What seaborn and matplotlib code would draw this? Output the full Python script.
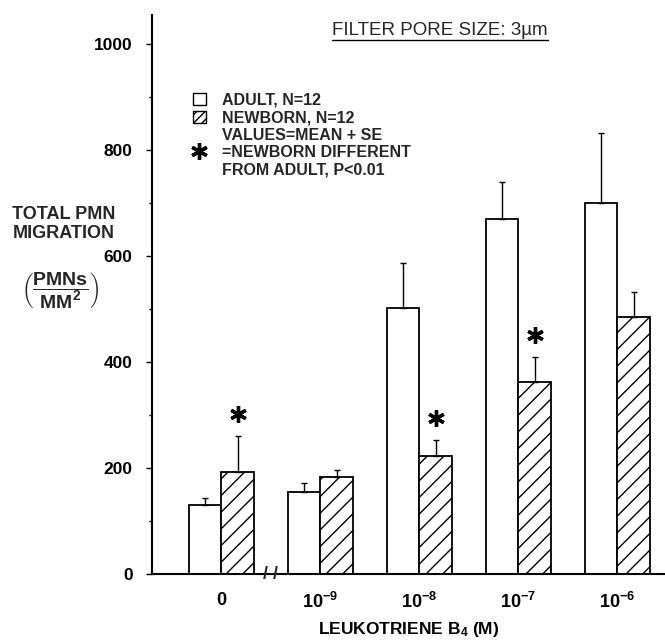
import numpy as np
import pandas as pd
import matplotlib
matplotlib.use("Agg")
import matplotlib.pyplot as plt
import matplotlib.transforms as mtransforms
from matplotlib.patches import Patch
from matplotlib.lines import Line2D
import seaborn as sns

# data (mean and SE, PMNs/mm2)
doses        = ["0", "1e-9", "1e-8", "1e-7", "1e-6"]
dose_labels  = ["0", r"$10^{-9}$", r"$10^{-8}$", r"$10^{-7}$", r"$10^{-6}$"]
groups       = ["ADULT", "NEWBORN"]
adult_mean   = [130, 155, 503, 670, 700]
adult_se     = [13, 17, 84, 70, 132]
newborn_mean = [192, 183, 223, 362, 485]
newborn_se   = [68, 13, 30, 48, 47]
newborn_sig  = [True, False, True, True, False]

sns.set_theme(style="ticks")
plt.rcParams["font.family"] = ["Liberation Sans", "DejaVu Sans"]
plt.rcParams["font.weight"] = "bold"
plt.rcParams["axes.labelweight"] = "bold"
plt.rcParams["mathtext.fontset"] = "custom"
plt.rcParams["mathtext.rm"] = "Liberation Sans:bold"
plt.rcParams["mathtext.bf"] = "Liberation Sans:bold"
plt.rcParams["mathtext.default"] = "rm"
plt.rcParams["hatch.linewidth"] = 1.0

df = pd.DataFrame({
    "dose":  doses * 2,
    "group": ["ADULT"] * len(doses) + ["NEWBORN"] * len(doses),
    "value": adult_mean + newborn_mean,
})

fig = plt.figure(figsize=(6.65, 6.4), dpi=100)
ax = fig.add_axes([0.2286, 0.1031, 0.7714, 0.8734])

sns.barplot(
    data=df, x="dose", y="value", hue="group",
    order=doses, hue_order=groups,
    palette={"ADULT": "white", "NEWBORN": "white"},
    edgecolor="black", linewidth=1.3, width=0.66, gap=0,
    errorbar=None, legend=False, ax=ax,
)
for bar in ax.containers[1]:
    bar.set_hatch("//")

# upper SE whiskers only
for cont, se in zip(ax.containers, [adult_se, newborn_se]):
    xs = [b.get_x() + b.get_width() / 2 for b in cont]
    hs = [b.get_height() for b in cont]
    ax.errorbar(xs, hs, yerr=[np.zeros(len(se)), se], fmt="none",
                ecolor="black", elinewidth=1, capsize=2, capthick=1)

# significance stars above newborn bars
star = (6, 2, 0)
star_tr = mtransforms.offset_copy(ax.transData, fig=fig, y=16, units="points")
for b, se, sig in zip(ax.containers[1], newborn_se, newborn_sig):
    if sig:
        ax.plot(b.get_x() + b.get_width() / 2, b.get_height() + se,
                marker=star, ms=12, mew=2.4, color="black",
                transform=star_tr, clip_on=False)

ax.set_xlim(-0.70, 4.48)
ax.set_ylim(0, 1055)
ax.set_yticks(range(0, 1001, 200))
ax.set_yticks(range(100, 1000, 200), minor=True)
ax.set_xticks(range(len(doses)))
ax.set_xticklabels(dose_labels)
ax.tick_params(axis="y", which="major", length=4, width=1, pad=10,
               labelsize=12.5, color="black", labelcolor="black")
ax.tick_params(axis="y", which="minor", length=2, width=1, color="black")
ax.tick_params(axis="x", length=0, pad=13, labelsize=13, labelcolor="black")
sns.despine(ax=ax)
for s in ["left", "bottom"]:
    ax.spines[s].set_color("black")
    ax.spines[s].set_linewidth(1.5)

ax.set_ylabel("")
ax.set_xlabel(r"LEUKOTRIENE B$_4$ (M)", fontsize=12.5, color="black",
              fontweight="bold")
ax.xaxis.set_label_coords(0.5, -0.082)

# axis break between 0 and 10^-9
ax.text(0.5, 0, "/ /", ha="center", va="center", fontsize=13,
        fontweight="bold", clip_on=False)

# y axis title
fig.text(64 / 665, 1 - 224 / 640, "TOTAL PMN\nMIGRATION", ha="center",
         va="center", fontsize=13, linespacing=1.1)
fig.text(60 / 665, 1 - 290 / 640, r"$\left(\dfrac{PMNs}{MM^2}\right)$",
         ha="center", va="center", fontsize=14)

# legend
handles = [
    Patch(facecolor="white", edgecolor="black", lw=1),
    Patch(facecolor="white", edgecolor="black", hatch="////", lw=1),
    Line2D([], [], ls="none"),
    Line2D([], [], ls="none", marker=star, ms=12, mew=2.4, color="black"),
    Line2D([], [], ls="none"),
]
labels = ["ADULT, N=12", "NEWBORN, N=12", "VALUES=MEAN + SE",
          "=NEWBORN DIFFERENT", "FROM ADULT, P<0.01"]
ax.legend(handles, labels, loc="upper left", bbox_to_anchor=(0.290, 0.855),
          bbox_transform=fig.transFigure, frameon=False, fontsize=11.5,
          handlelength=0.8, handleheight=0.8, handletextpad=1.0,
          labelspacing=0.15, borderpad=0, borderaxespad=0)

# underlined panel title
title = fig.text(0.662, 0.953, "FILTER PORE SIZE: 3µm", ha="center",
                 va="center", fontsize=13.5, fontweight="normal")
fig.canvas.draw()
bb = title.get_window_extent().transformed(fig.transFigure.inverted())
fig.add_artist(Line2D([bb.x0, bb.x1], [0.938, 0.938], transform=fig.transFigure,
                      color="black", lw=1))

fig.savefig("out.png", dpi=100, facecolor="white")
